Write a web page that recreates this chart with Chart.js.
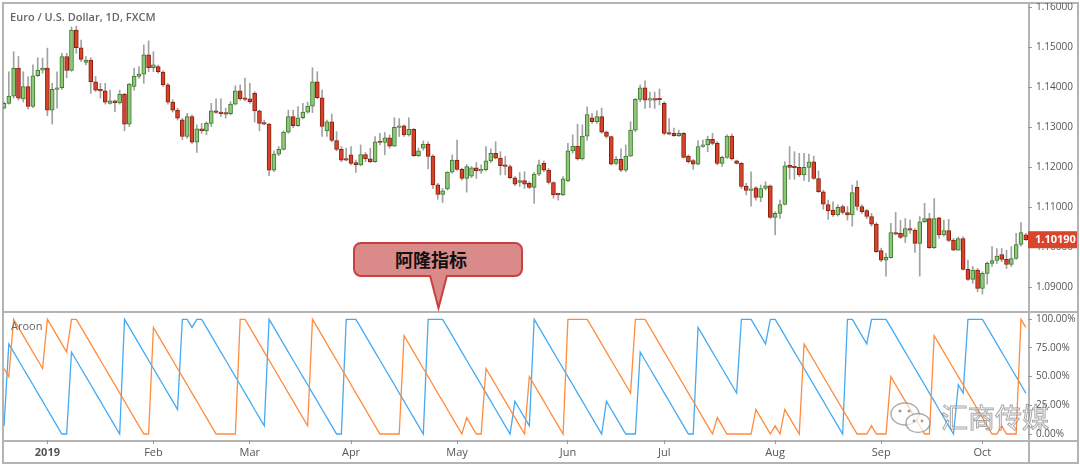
<!DOCTYPE html>
<html>
<head>
<meta charset="utf-8">
<script src="https://cdn.jsdelivr.net/npm/chart.js@4.4.1/dist/chart.umd.min.js"></script>
<style>
  body { margin: 0; background: #fff; }
  #wrap { position: relative; width: 1080px; height: 467px; overflow: hidden; font-family: "Open Sans", sans-serif; }
  .ln { position: absolute; background: #b4b4b4; z-index: 0; }
  canvas { position: absolute; z-index: 1; }
  #title { position: absolute; left: 10px; top: 10px; font-size: 11px; font-weight: 600; color: #666; line-height: 14px; z-index: 2; }
  #aroonLbl { position: absolute; left: 11px; top: 319px; font-size: 11px; color: #666; line-height: 14px; z-index: 2; }
  #callout { position: absolute; left: 353px; top: 242px; width: 166px; height: 31px; background: #db8a8a; border: 2px solid #c8403f;
             border-radius: 8px; z-index: 3; font-family: "Noto Sans CJK SC", sans-serif; font-weight: bold; font-size: 18px;
             color: #111; line-height: 31px; text-align: center; box-sizing: content-box; }
  #callout span { position: relative; left: -7px; }
  #pointer { position: absolute; left: 0; top: 0; z-index: 4; }
  #wm { position: absolute; left: 941px; top: 400px; font-family: "Noto Sans CJK SC", sans-serif; font-size: 27px; line-height: 34px;
        color: rgba(255,255,255,0.55); -webkit-text-stroke: 1px rgba(110,110,110,0.6); z-index: 5; }
  #wmIcon { position: absolute; left: 888px; top: 400px; z-index: 5; }
</style>
</head>
<body>
<div id="wrap">
  <div class="ln" style="left:2px;top:2px;width:1077px;height:2px"></div>
  <div class="ln" style="left:2px;top:2px;width:2px;height:462px"></div>
  <div class="ln" style="left:2px;top:462px;width:1077px;height:2px"></div>
  <div class="ln" style="left:1077px;top:2px;width:2px;height:462px"></div>
  <div class="ln" style="left:2px;top:311px;width:1077px;height:2px"></div>
  <div class="ln" style="left:2px;top:440px;width:1077px;height:2px"></div>
  <div class="ln" style="left:1028px;top:2px;width:2px;height:462px"></div>

  <canvas id="price" width="1075" height="308" style="left:3px;top:3px"></canvas>
  <canvas id="aroon" width="1075" height="150" style="left:3px;top:312px"></canvas>

  <div id="title">Euro / U.S. Dollar, 1D, FXCM</div>
  <div id="aroonLbl">Aroon</div>

  <div id="callout"><span>阿隆指标</span></div>
  <svg id="pointer" width="1080" height="467">
    <polygon points="430,274 447,274 438.5,308" fill="#db8a8a"/>
    <path d="M430,275.5 L438.5,308 L447,275.5" fill="none" stroke="#c8403f" stroke-width="2"/>
  </svg>

  <svg id="wmIcon" width="50" height="36">
    <ellipse cx="17" cy="14" rx="14" ry="11" fill="rgba(255,255,255,0.6)" stroke="rgba(120,120,120,0.6)" stroke-width="1.5"/>
    <ellipse cx="30" cy="23" rx="12" ry="9.5" fill="rgba(255,255,255,0.7)" stroke="rgba(120,120,120,0.6)" stroke-width="1.5"/>
    <circle cx="12" cy="11" r="1.6" fill="rgba(120,120,120,0.7)"/>
    <circle cx="21" cy="11" r="1.6" fill="rgba(120,120,120,0.7)"/>
    <circle cx="26" cy="21" r="1.4" fill="rgba(120,120,120,0.7)"/>
    <circle cx="34" cy="21" r="1.4" fill="rgba(120,120,120,0.7)"/>
  </svg>
  <div id="wm">汇商传媒</div>
</div>

<script>
// EUR/USD daily candles (FXCM), Dec 2018 - Oct 2019
const opens = [
  1.1348,1.1360,1.1378,1.1448,1.1371,1.1402,1.1352,1.1429,1.1443,1.1448,
  1.1343,1.1395,1.1399,1.1477,1.1442,1.1543,1.1499,1.1462,1.1468,1.1414,
  1.1393,1.1391,1.1360,1.1366,1.1361,1.1383,1.1308,1.1402,1.1427,1.1433,
  1.1481,1.1449,1.1452,1.1438,1.1406,1.1363,1.1343,1.1319,1.1277,1.1327,
  1.1263,1.1296,1.1291,1.1310,1.1341,1.1338,1.1336,1.1334,1.1358,1.1391,
  1.1373,1.1371,1.1385,1.1341,1.1310,1.1308,1.1193,1.1233,1.1245,1.1288,
  1.1327,1.1304,1.1324,1.1338,1.1353,1.1414,1.1374,1.1291,1.1314,1.1267,
  1.1245,1.1220,1.1231,1.1212,1.1206,1.1232,1.1221,1.1214,1.1264,1.1262,
  1.1274,1.1253,1.1300,1.1304,1.1281,1.1295,1.1229,1.1248,1.1258,1.1228,
  1.1156,1.1132,1.1146,1.1188,1.1218,1.1195,1.1172,1.1178,1.1199,1.1191,
  1.1194,1.1216,1.1235,1.1223,1.1206,1.1202,1.1174,1.1162,1.1167,1.1160,
  1.1150,1.1183,1.1210,1.1193,1.1162,1.1133,1.1131,1.1166,1.1241,1.1253,
  1.1221,1.1278,1.1324,1.1314,1.1327,1.1288,1.1277,1.1210,1.1220,1.1193,
  1.1228,1.1293,1.1370,1.1399,1.1368,1.1371,1.1371,1.1360,1.1287,1.1285,
  1.1279,1.1285,1.1228,1.1217,1.1208,1.1252,1.1256,1.1270,1.1260,1.1210,
  1.1225,1.1278,1.1216,1.1210,1.1153,1.1142,1.1149,1.1125,1.1147,1.1154,
  1.1075,1.1085,1.1107,1.1205,1.1202,1.1200,1.1181,1.1200,1.1214,1.1172,
  1.1139,1.1107,1.1093,1.1081,1.1102,1.1087,1.1081,1.1150,1.1102,1.1092,
  1.1077,1.1058,1.0992,1.0968,1.0974,1.1037,1.1035,1.1027,1.1047,1.1043,
  1.1010,1.1064,1.1072,1.0999,1.1074,1.1031,1.1042,1.1018,1.0993,1.1022,
  1.0945,1.0920,1.0943,1.0897,1.0935,1.0960,1.0967,1.0982,1.0970,1.0957,
  1.0972,1.1007,1.1031
];
const highs = [
  1.1364,1.1439,1.1489,1.1477,1.1439,1.1427,1.1456,1.1474,1.1473,1.1498,
  1.1410,1.1439,1.1485,1.1485,1.1551,1.1553,1.1518,1.1477,1.1474,1.1427,
  1.1410,1.1410,1.1393,1.1368,1.1393,1.1385,1.1410,1.1448,1.1452,1.1506,
  1.1516,1.1489,1.1456,1.1441,1.1410,1.1369,1.1348,1.1323,1.1335,1.1331,
  1.1306,1.1310,1.1314,1.1360,1.1371,1.1371,1.1348,1.1364,1.1404,1.1406,
  1.1423,1.1410,1.1389,1.1343,1.1318,1.1310,1.1241,1.1252,1.1291,1.1343,
  1.1343,1.1352,1.1360,1.1363,1.1449,1.1439,1.1393,1.1318,1.1333,1.1289,
  1.1252,1.1248,1.1252,1.1218,1.1256,1.1237,1.1248,1.1277,1.1285,1.1287,
  1.1281,1.1324,1.1322,1.1306,1.1324,1.1297,1.1248,1.1266,1.1264,1.1231,
  1.1160,1.1147,1.1189,1.1231,1.1268,1.1198,1.1207,1.1202,1.1212,1.1206,
  1.1252,1.1246,1.1264,1.1239,1.1227,1.1206,1.1177,1.1187,1.1189,1.1164,
  1.1187,1.1218,1.1216,1.1197,1.1164,1.1135,1.1177,1.1260,1.1281,1.1308,
  1.1306,1.1351,1.1335,1.1341,1.1348,1.1291,1.1278,1.1227,1.1246,1.1256,
  1.1314,1.1372,1.1406,1.1416,1.1388,1.1388,1.1396,1.1364,1.1322,1.1298,
  1.1293,1.1287,1.1231,1.1220,1.1267,1.1268,1.1278,1.1285,1.1264,1.1228,
  1.1281,1.1283,1.1218,1.1212,1.1160,1.1189,1.1152,1.1156,1.1164,1.1156,
  1.1089,1.1118,1.1214,1.1252,1.1239,1.1235,1.1235,1.1233,1.1228,1.1191,
  1.1143,1.1118,1.1114,1.1106,1.1106,1.1102,1.1156,1.1166,1.1106,1.1095,
  1.1085,1.1062,1.0998,1.0985,1.1060,1.1087,1.1067,1.1072,1.1068,1.1047,
  1.1077,1.1110,1.1085,1.1122,1.1075,1.1068,1.1070,1.1022,1.1026,1.1026,
  1.0968,1.0952,1.0947,1.0939,1.0964,1.1002,1.0997,1.0997,1.0993,1.1002,
  1.1035,1.1062,1.1035
];
const lows = [
  1.1346,1.1358,1.1373,1.1368,1.1363,1.1346,1.1349,1.1427,1.1435,1.1329,
  1.1308,1.1348,1.1395,1.1424,1.1440,1.1485,1.1464,1.1456,1.1385,1.1389,
  1.1373,1.1358,1.1358,1.1339,1.1358,1.1291,1.1302,1.1393,1.1423,1.1410,
  1.1439,1.1439,1.1435,1.1402,1.1358,1.1338,1.1318,1.1269,1.1273,1.1260,
  1.1237,1.1285,1.1281,1.1302,1.1335,1.1327,1.1323,1.1331,1.1356,1.1368,
  1.1366,1.1360,1.1313,1.1291,1.1306,1.1179,1.1189,1.1229,1.1243,1.1285,
  1.1299,1.1302,1.1321,1.1335,1.1337,1.1371,1.1277,1.1277,1.1264,1.1241,
  1.1214,1.1216,1.1206,1.1187,1.1204,1.1214,1.1212,1.1212,1.1256,1.1231,
  1.1248,1.1252,1.1277,1.1277,1.1278,1.1227,1.1227,1.1243,1.1196,1.1147,
  1.1120,1.1112,1.1143,1.1185,1.1192,1.1168,1.1138,1.1174,1.1172,1.1185,
  1.1191,1.1212,1.1221,1.1181,1.1181,1.1171,1.1154,1.1152,1.1147,1.1147,
  1.1110,1.1179,1.1189,1.1158,1.1123,1.1118,1.1129,1.1164,1.1235,1.1218,
  1.1218,1.1268,1.1310,1.1310,1.1285,1.1273,1.1206,1.1206,1.1189,1.1189,
  1.1227,1.1289,1.1364,1.1347,1.1349,1.1347,1.1356,1.1281,1.1281,1.1277,
  1.1277,1.1223,1.1210,1.1195,1.1206,1.1250,1.1239,1.1256,1.1206,1.1202,
  1.1222,1.1218,1.1208,1.1147,1.1131,1.1103,1.1118,1.1114,1.1143,1.1072,
  1.1031,1.1072,1.1106,1.1170,1.1170,1.1177,1.1167,1.1164,1.1170,1.1137,
  1.1095,1.1070,1.1077,1.1078,1.1083,1.1068,1.1053,1.1093,1.1085,1.1072,
  1.1053,1.0987,1.0964,1.0928,1.0973,1.1031,1.1022,1.1012,1.1035,1.0987,
  1.0928,1.1062,1.0997,1.0997,1.1022,1.1028,1.1014,1.0992,1.0992,1.0943,
  1.0917,1.0910,1.0889,1.0883,1.0908,1.0952,1.0960,1.0964,1.0947,1.0952,
  1.0970,1.1003,1.1017
];
const closes = [
  1.1360,1.1378,1.1448,1.1373,1.1402,1.1352,1.1429,1.1443,1.1448,1.1343,
  1.1395,1.1399,1.1477,1.1442,1.1543,1.1499,1.1470,1.1468,1.1414,1.1393,
  1.1391,1.1363,1.1366,1.1361,1.1383,1.1308,1.1408,1.1428,1.1433,1.1481,
  1.1449,1.1456,1.1439,1.1406,1.1363,1.1343,1.1323,1.1277,1.1327,1.1263,
  1.1296,1.1291,1.1310,1.1341,1.1337,1.1334,1.1333,1.1358,1.1391,1.1371,
  1.1370,1.1364,1.1341,1.1310,1.1308,1.1193,1.1233,1.1245,1.1288,1.1327,
  1.1304,1.1324,1.1338,1.1353,1.1414,1.1374,1.1302,1.1314,1.1267,1.1245,
  1.1218,1.1218,1.1210,1.1206,1.1232,1.1221,1.1214,1.1264,1.1262,1.1274,
  1.1253,1.1300,1.1304,1.1281,1.1295,1.1229,1.1241,1.1258,1.1227,1.1156,
  1.1132,1.1141,1.1188,1.1218,1.1195,1.1172,1.1202,1.1199,1.1191,1.1194,
  1.1216,1.1235,1.1223,1.1204,1.1202,1.1174,1.1158,1.1167,1.1158,1.1150,
  1.1183,1.1206,1.1193,1.1162,1.1131,1.1131,1.1171,1.1241,1.1253,1.1221,
  1.1278,1.1332,1.1314,1.1327,1.1288,1.1277,1.1208,1.1220,1.1193,1.1228,
  1.1293,1.1370,1.1399,1.1368,1.1371,1.1368,1.1369,1.1285,1.1283,1.1279,
  1.1285,1.1225,1.1214,1.1208,1.1252,1.1256,1.1270,1.1260,1.1210,1.1225,
  1.1278,1.1221,1.1210,1.1152,1.1142,1.1146,1.1125,1.1147,1.1154,1.1075,
  1.1085,1.1107,1.1204,1.1200,1.1199,1.1181,1.1200,1.1214,1.1172,1.1139,
  1.1108,1.1091,1.1081,1.1100,1.1087,1.1081,1.1137,1.1102,1.1089,1.1077,
  1.1058,1.0989,1.0968,1.0975,1.1037,1.1033,1.1025,1.1047,1.1043,1.1010,
  1.1064,1.1072,1.0999,1.1072,1.1031,1.1042,1.1017,1.0993,1.1022,1.0945,
  1.0920,1.0943,1.0897,1.0935,1.0960,1.0967,1.0978,1.0970,1.0957,1.0972,
  1.1007,1.1037,1.1019
];

// Aroon (14) in percent
const aroonUp = [
  57.1,50,100,92.9,85.7,78.6,71.4,64.3,57.1,100,
  92.9,85.7,78.6,71.4,100,100,92.9,85.7,78.6,71.4,
  64.3,57.1,50,42.9,35.7,28.6,21.4,14.3,7.1,0,
  0,92.9,85.7,78.6,71.4,64.3,57.1,50,42.9,35.7,
  28.6,21.4,14.3,7.1,0,0,0,0,0,100,
  100,92.9,85.7,78.6,71.4,64.3,57.1,50,42.9,35.7,
  28.6,21.4,14.3,7.1,100,92.9,85.7,78.6,71.4,64.3,
  57.1,50,42.9,35.7,28.6,21.4,14.3,7.1,0,0,
  0,0,0,85.7,78.6,71.4,64.3,57.1,50,42.9,
  35.7,28.6,21.4,14.3,7.1,0,14.3,7.1,0,0,
  57.1,50,42.9,35.7,28.6,21.4,14.3,7.1,0,50,
  42.9,35.7,28.6,21.4,14.3,7.1,0,100,100,100,
  100,100,92.9,85.7,78.6,71.4,64.3,57.1,50,42.9,
  35.7,100,100,100,92.9,85.7,78.6,71.4,64.3,57.1,
  50,42.9,35.7,28.6,21.4,14.3,7.1,0,14.3,7.1,
  0,0,0,0,0,0,21.4,14.3,7.1,0,
  7.1,0,21.4,14.3,7.1,0,78.6,71.4,64.3,57.1,
  50,42.9,35.7,28.6,21.4,14.3,7.1,0,0,0,
  7.1,0,0,0,50,42.9,35.7,28.6,21.4,14.3,
  7.1,0,0,85.7,78.6,71.4,64.3,57.1,50,42.9,
  35.7,28.6,21.4,14.3,7.1,0,0,7.1,0,0,
  0,100,92.9
];
const aroonDown = [
  7.1,78.6,71.4,64.3,57.1,50,42.9,35.7,28.6,21.4,
  14.3,7.1,0,0,71.4,64.3,57.1,50,42.9,35.7,
  28.6,21.4,14.3,7.1,0,100,92.9,85.7,78.6,71.4,
  64.3,57.1,50,42.9,35.7,28.6,21.4,100,100,92.9,
  100,100,92.9,85.7,78.6,71.4,64.3,57.1,50,42.9,
  35.7,28.6,21.4,14.3,7.1,100,92.9,85.7,78.6,71.4,
  64.3,57.1,50,42.9,35.7,28.6,21.4,14.3,7.1,0,
  0,100,100,100,92.9,85.7,78.6,71.4,64.3,57.1,
  50,42.9,35.7,28.6,21.4,14.3,7.1,0,100,100,
  100,100,92.9,85.7,78.6,71.4,64.3,57.1,50,42.9,
  35.7,28.6,21.4,14.3,7.1,0,28.6,21.4,14.3,7.1,
  100,92.9,85.7,78.6,71.4,64.3,57.1,50,42.9,35.7,
  28.6,21.4,14.3,7.1,0,28.6,21.4,14.3,7.1,0,
  0,0,71.4,64.3,57.1,50,42.9,35.7,28.6,21.4,
  14.3,7.1,0,0,92.9,85.7,78.6,71.4,64.3,57.1,
  50,42.9,35.7,100,100,100,92.9,85.7,78.6,100,
  100,92.9,85.7,78.6,71.4,64.3,57.1,50,42.9,35.7,
  28.6,21.4,14.3,7.1,0,100,100,92.9,85.7,78.6,
  100,100,100,100,92.9,85.7,78.6,71.4,64.3,57.1,
  50,42.9,35.7,28.6,21.4,14.3,7.1,0,42.9,35.7,
  100,100,100,100,92.9,85.7,78.6,71.4,64.3,57.1,
  50,42.9,35.7
];

// first trading day of each month (bar index) and its label
const monthIdx = [9, 31, 51, 72, 94, 117, 137, 160, 182, 203];
const monthNames = ["2019", "Feb", "Mar", "Apr", "May", "Jun", "Jul", "Aug", "Sep", "Oct"];

const priceTicks = { min: 1.08408, max: 1.16108, step: 0.01 };
const aroonTicks = { min: -5.23, max: 106.36, step: 25 };
const xRange = { min: -0.21, max: 212.46 };

Chart.defaults.font.family = "'Open Sans', sans-serif";

const up = closes.map((c, i) => c >= opens[i]);
const bodyData = closes.map((c, i) => ({ x: i, y: [opens[i], c] }));
const wickData = closes.map((c, i) => ({ x: i, y: [lows[i], highs[i]] }));

// no extra room for half tick labels: the axes fill the canvas edge to edge
const noPad = (s) => {
  s.paddingTop = 0;
  s.paddingBottom = 0;
  s.paddingLeft = 0;
  s.paddingRight = 0;
};

const lastPriceTag = {
  id: "lastPriceTag",
  afterDraw(chart) {
    const last = closes[closes.length - 1];
    const y = chart.scales.y.getPixelForValue(last);
    const x0 = chart.chartArea.right;
    const ctx = chart.ctx;
    ctx.save();
    ctx.fillStyle = "#d9452c";
    ctx.fillRect(x0, y - 8.5, 49, 17);
    ctx.fillStyle = "#fff";
    ctx.font = "bold 11px 'Open Sans'";
    ctx.textBaseline = "middle";
    ctx.fillText(last.toFixed(5), x0 + 7, y + 0.5);
    ctx.restore();
  },
};

new Chart(document.getElementById("price"), {
  type: "bar",
  data: {
    datasets: [
      {
        label: "body",
        data: bodyData,
        grouped: false,
        order: 0,
        barThickness: 4,
        minBarLength: 1.5,
        borderWidth: 1,
        borderSkipped: false,
        backgroundColor: up.map((u) => (u ? "#90c67c" : "#d5442a")),
        borderColor: up.map((u) => (u ? "#3b7b2c" : "#8a1e0e")),
      },
      {
        label: "wick",
        data: wickData,
        grouped: false,
        order: 1,
        barThickness: 1,
        backgroundColor: "#a2a2a2",
        borderWidth: 0,
      },
    ],
  },
  options: {
    responsive: false,
    animation: false,
    devicePixelRatio: 1,
    layout: { padding: 0 },
    plugins: { legend: { display: false }, tooltip: { enabled: false } },
    scales: {
      x: { type: "linear", display: false, offset: false, min: xRange.min, max: xRange.max, grid: { offset: false } },
      y: {
        position: "right",
        min: priceTicks.min,
        max: priceTicks.max,
        afterFit: (s) => { s.width = 50; noPad(s); },
        border: { display: false },
        grid: { drawOnChartArea: false, drawTicks: true, tickLength: 4, color: "#999" },
        ticks: {
          stepSize: priceTicks.step,
          includeBounds: false,
          padding: 4,
          color: "#555",
          font: { size: 10 },
          callback: (v) => v.toFixed(5),
        },
      },
    },
  },
  plugins: [lastPriceTag],
});

new Chart(document.getElementById("aroon"), {
  type: "line",
  data: {
    datasets: [
      {
        label: "Aroon Up",
        data: aroonUp.map((v, i) => ({ x: i, y: v })),
        borderColor: "#ff8b3d",
        borderWidth: 1.3,
        pointRadius: 0,
        tension: 0,
      },
      {
        label: "Aroon Down",
        data: aroonDown.map((v, i) => ({ x: i, y: v })),
        borderColor: "#45aaf2",
        borderWidth: 1.3,
        pointRadius: 0,
        tension: 0,
      },
    ],
  },
  options: {
    responsive: false,
    animation: false,
    devicePixelRatio: 1,
    layout: { padding: 0 },
    plugins: { legend: { display: false }, tooltip: { enabled: false } },
    scales: {
      x: {
        type: "linear",
        min: xRange.min,
        max: xRange.max,
        afterFit: (s) => { s.height = 22; noPad(s); },
        afterBuildTicks: (s) => { s.ticks = monthIdx.map((v) => ({ value: v })); },
        border: { display: false },
        grid: { drawOnChartArea: false, drawTicks: true, tickLength: 4, color: "#999" },
        ticks: {
          autoSkip: false,
          maxRotation: 0,
          padding: 2,
          color: "#555",
          font: (c) => ({ size: 11, weight: c.tick && c.tick.value === monthIdx[0] ? "bold" : "normal" }),
          callback: (v) => monthNames[monthIdx.indexOf(v)],
        },
      },
      y: {
        position: "right",
        min: aroonTicks.min,
        max: aroonTicks.max,
        afterFit: (s) => { s.width = 50; noPad(s); },
        border: { display: false },
        grid: { drawOnChartArea: false, drawTicks: true, tickLength: 4, color: "#999" },
        ticks: {
          stepSize: aroonTicks.step,
          includeBounds: false,
          padding: 4,
          color: "#555",
          font: { size: 10 },
          callback: (v) => v.toFixed(2) + "%",
        },
      },
    },
  },
});
</script>
</body>
</html>
